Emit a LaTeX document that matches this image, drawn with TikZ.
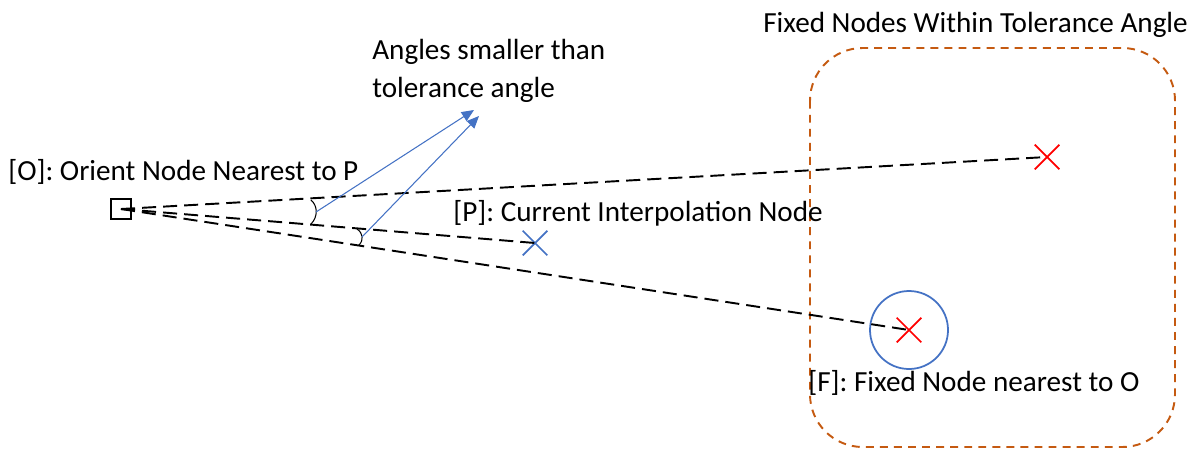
\documentclass[tikz,border=0pt]{standalone}
\usepackage{fontspec}
\setmainfont{Carlito}
\usetikzlibrary{arrows.meta}
\usetikzlibrary{shapes.misc}

\definecolor{msblue}{HTML}{4472C4}
\definecolor{msorange}{HTML}{C55A11}

\tikzset{
  link/.style={dashed, dash pattern=on 8pt off 4pt, line width=1.1pt},
  xmark/.style={cross out, draw=#1, line width=1pt, minimum size=13pt, inner sep=0pt},
  pointer/.style={msblue, line width=0.6pt, -{Triangle[width=6pt, length=7pt]}},
  lbl/.style={font=\fontsize{16.6}{21.6}\selectfont, inner sep=0pt}
}

\begin{document}
\begin{tikzpicture}[x=0.02cm, y=-0.02cm]
\useasboundingbox (0, 0) rectangle (1193, 450);

% tolerance region
\draw [msorange, line width=1.1pt, dash pattern=on 4.5pt off 3.5pt, rounded corners=30pt] (810, 48) rectangle (1175, 447);
\node (region) [lbl, anchor=west] at (763, 25) {Fixed Nodes Within Tolerance Angle};

% nodes
\node (o) [draw, line width=1.1pt, minimum size=11pt, inner sep=0pt] at (121, 209) {};
\node (p) [xmark=msblue] at (535, 243) {};
\node (f1) [xmark=red] at (1047, 157) {};
\node (f) [xmark=red] at (909, 330) {};
\draw [msblue, line width=1pt] (f) circle [radius=39];

\draw [link] (o.center) -- (f1.center);
\draw [link] (o.center) -- (p.center);
\draw [link] (o.center) -- (f.center);

% angles
\draw [line width=0.6pt] (311, 200) .. controls (318, 206) and (318, 217) .. (311, 224);
\draw [line width=0.6pt] (357, 229) .. controls (363, 233) and (364, 240) .. (359, 245);

\node (ol) [lbl, anchor=west] at (8, 172) {[O]: Orient Node Nearest to P};
\node (pl) [lbl, anchor=west] at (453, 213) {[P]: Current Interpolation Node};
\node (fl) [lbl, anchor=west] at (808, 383) {[F]: Fixed Node nearest to O};
\node (ang) [lbl, anchor=north west, align=left] at (372, 39) {Angles smaller than\\tolerance angle};

\coordinate (a1) at (316, 212);
\coordinate (a2) at (362, 237);
\coordinate (t1) at (474, 110);
\coordinate (t2) at (479, 116);
\draw [pointer] (a1) -- (t1);
\draw [pointer] (a2) -- (t2);
\end{tikzpicture}
\end{document}
